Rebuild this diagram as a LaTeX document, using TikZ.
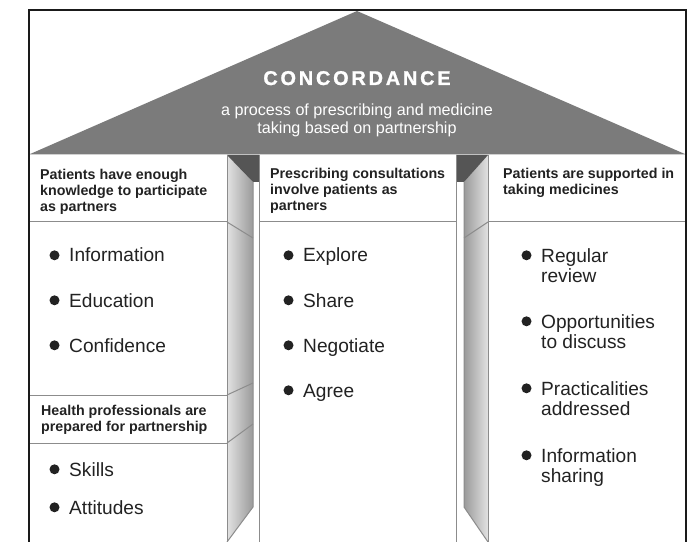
\documentclass[tikz,border=0pt]{standalone}
\usepackage{fontspec}
\setmainfont{Liberation Sans}
\definecolor{roofgray}{HTML}{7B7B7B}
\definecolor{topdark}{HTML}{555555}
\definecolor{linegray}{HTML}{8C8C8C}
\definecolor{inkgray}{HTML}{222222}
\definecolor{framegray}{HTML}{1A1A1A}
\definecolor{pillarlight}{HTML}{E2E2E2}
\definecolor{pillardark}{HTML}{9A9A9A}
\tikzset{
      headtext/.style={
        font=\bfseries\fontsize{14.3}{16.5}\selectfont,
        text=inkgray,
        align=left,
        anchor=base west,
        inner sep=0pt
      },
      itemtext/.style={
        font=\fontsize{19.2}{20}\selectfont,
        text=inkgray,
        align=left,
        anchor=base west,
        inner sep=0pt
      },
      boxline/.style={draw=linegray, line width=1bp},
      frameline/.style={draw=framegray, line width=2.4bp},
      bulletdot/.style={fill=inkgray}
    }

\begin{document}
\begin{tikzpicture}[x=1bp,y=-1bp]
    \useasboundingbox (0,0) rectangle (700,542);
    % roof
    \fill[roofgray] (29,154.5) -- (357,11) -- (686,154.5) -- cycle;
    \node[text=white, inner sep=0pt, anchor=base, font=\bfseries\fontsize{20}{22}\selectfont\addfontfeatures{LetterSpace=14,FakeBold=1.2}] (title) at (357,85) {CONCORDANCE};
    \node[text=white, inner sep=0pt, align=center, font=\fontsize{16.2}{18.3}\selectfont, anchor=base] (subtitle) at (357,133.3) {a process of prescribing and medicine\\taking based on partnership};
    % pillars
    \shade[left color=pillarlight, right color=pillardark] (227,155) -- (253,182) -- (253,507) -- (227,542) -- cycle;
    \fill[topdark] (227,155) -- (259,155) -- (259,182) -- (253,182) -- cycle;
    \draw[boxline] (253,182) -- (253,507) -- (227,542);
    \draw[boxline] (227,222) -- (253,238);
    \draw[boxline] (227,395) -- (253,383);
    \draw[boxline] (227,443) -- (253,424);
    \shade[left color=pillardark, right color=pillarlight] (488,155) -- (464,182) -- (464,507) -- (488,542) -- cycle;
    \fill[topdark] (456,155) -- (488,155) -- (464,182) -- (456,182) -- cycle;
    \draw[boxline] (464,182) -- (464,507) -- (488,542);
    \draw[boxline] (488,222) -- (464,238);
    % boxes
    \draw[boxline] (227,155) -- (227,542);
    \draw[boxline] (29,222) -- (227,222);
    \draw[boxline] (29,395) -- (227,395);
    \draw[boxline] (29,443) -- (227,443);
    \draw[boxline] (259,155) -- (259,542);
    \draw[boxline] (456,155) -- (456,542);
    \draw[boxline] (259,222) -- (456,222);
    \draw[boxline] (488,155) -- (488,542);
    \draw[boxline] (488,222) -- (686,222);
    \draw[frameline] (29,545) -- (29,10) -- (686,10) -- (686,545);
    % left column
    \node[headtext] (hleft) at (40,212) {Patients have enough\\knowledge to participate\\as partners};
    \node[itemtext] (info) at (69,262) {Information};
    \node[itemtext] (educ) at (69,307) {Education};
    \node[itemtext] (conf) at (69,352) {Confidence};
    \node[headtext] (hprof) at (41,431.5) {Health professionals are\\prepared for partnership};
    \node[itemtext] (skil) at (69,476) {Skills};
    \node[itemtext] (atti) at (69,514) {Attitudes};
    % middle column
    \node[headtext] (hmid) at (270,211) {Prescribing consultations\\involve patients as\\partners};
    \node[itemtext] (expl) at (303,262) {Explore};
    \node[itemtext] (shar) at (303,307) {Share};
    \node[itemtext] (nego) at (303,352) {Negotiate};
    \node[itemtext] (agre) at (303,397) {Agree};
    % right column
    \node[headtext] (hright) at (503,194.5) {Patients are supported in\\taking medicines};
    \node[itemtext] (revw) at (541,282) {Regular\\review};
    \node[itemtext] (oppo) at (541,348) {Opportunities\\to discuss};
    \node[itemtext] (prac) at (541,415) {Practicalities\\addressed};
    \node[itemtext] (ishr) at (541,482) {Information\\sharing};
    % bullets
    \foreach \n in {info,educ,conf,skil,atti,expl,shar,nego,agre}
      \fill[bulletdot] ([xshift=-14.5bp,yshift=6.7bp]\n.base west) circle (5bp);
    \foreach \n in {revw,oppo,prac,ishr}
      \fill[bulletdot] ([xshift=-14.5bp,yshift=26.7bp]\n.base west) circle (5bp);
\end{tikzpicture}
\end{document}
